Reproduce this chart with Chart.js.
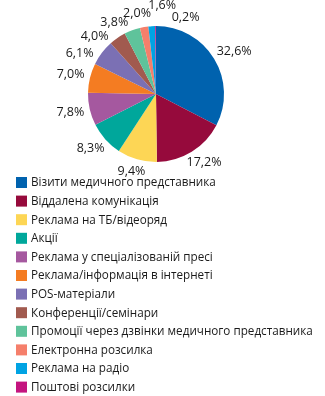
<!DOCTYPE html>
<html>
<head>
<meta charset="utf-8">
<script src="https://cdn.jsdelivr.net/npm/chart.js@4"></script>
<style>
  html, body { margin: 0; padding: 0; background: #fff; }
  #wrap { width: 325px; height: 396px; }
</style>
</head>
<body>
<div id="wrap"><canvas id="myChart" width="325" height="396"></canvas></div>
<script>
var categories = [
  'Візити медичного представника',
  'Віддалена комунікація',
  'Реклама на ТБ/відеоряд',
  'Акції',
  'Реклама у спеціалізованій пресі',
  'Реклама/інформація в інтернеті',
  'POS-матеріали',
  'Конференції/семінари',
  'Промоції через дзвінки медичного представника',
  'Електронна розсилка',
  'Реклама на радіо',
  'Поштові розсилки'
];
var shares = [32.6, 17.2, 9.4, 8.3, 7.8, 7.0, 6.1, 4.0, 3.8, 2.0, 1.6, 0.2];
var colors = ['#0062ae', '#960a3c', '#fdd655', '#00a79b', '#a5589f', '#f47c22',
              '#7b70b4', '#a15a4f', '#5fc39b', '#f57f6b', '#00a3e3', '#c4147f'];

var FONT = '"Open Sans", "Noto Sans", sans-serif';

function fmt(v) {
  return v.toFixed(1).replace('.', ',') + '%';
}

function overlaps(a, b) {
  return a.x1 < b.x2 && b.x1 < a.x2 && a.y1 < b.y2 && b.y1 < a.y2;
}

// percent labels around the pie, spread apart where slices are thin
var outsideLabels = {
  id: 'outsideLabels',
  afterDatasetsDraw: function(chart) {
    var ctx = chart.ctx;
    var arcs = chart.getDatasetMeta(0).data;
    var n = arcs.length;
    var ang = arcs.map(function(a) { return (a.startAngle + a.endAngle) / 2; });
    var minSep = 16 * Math.PI / 180;
    for (var it = 0; it < 80; it++) {
      for (var i = 0; i < n; i++) {
        var j = (i + 1) % n;
        var b = ang[j] + (j === 0 ? Math.PI * 2 : 0);
        var d = b - ang[i];
        if (d < minSep) {
          var push = (minSep - d) / 2;
          ang[i] -= push;
          ang[j] += push;
        }
      }
    }
    ctx.save();
    ctx.font = '12.5px ' + FONT;
    ctx.fillStyle = '#1a1a1a';
    ctx.textAlign = 'center';
    ctx.textBaseline = 'middle';
    var placed = [];
    for (var k = 0; k < n; k++) {
      var a = arcs[k];
      var c = Math.cos(ang[k]), s = Math.sin(ang[k]);
      var txt = fmt(shares[k]);
      var w = ctx.measureText(txt).width;
      var r = a.outerRadius + 6, x, y, box;
      // bump outward until it clears the labels already drawn
      for (var step = 0; step < 30; step++) {
        x = a.x + r * c + (w / 2) * c;
        y = a.y + r * s + 7 * s;
        box = { x1: x - w / 2, x2: x + w / 2, y1: y - 4, y2: y + 4 };
        if (!placed.some(function(p) { return overlaps(p, box); })) break;
        r += 1;
      }
      placed.push(box);
      ctx.fillText(txt, x, y);
    }
    ctx.restore();
  }
};

// vertical legend under the pie
var listLegend = {
  id: 'listLegend',
  afterDraw: function(chart) {
    var ctx = chart.ctx;
    ctx.save();
    ctx.font = '11.7px ' + FONT;
    ctx.textBaseline = 'middle';
    ctx.textAlign = 'left';
    categories.forEach(function(name, i) {
      var y = 177 + i * 18.6;
      ctx.fillStyle = colors[i];
      ctx.fillRect(16, y, 11, 11);
      ctx.fillStyle = '#1a1a1a';
      ctx.fillText(name, 31, y + 6);
    });
    ctx.restore();
  }
};

var ctx = document.getElementById('myChart').getContext('2d');
var myPie = new Chart(ctx, {
  type: 'pie',
  data: {
    labels: categories,
    datasets: [{
      data: shares,
      backgroundColor: colors,
      borderWidth: 0
    }]
  },
  options: {
    responsive: false,
    animation: false,
    layout: { padding: { left: 88, right: 101, top: 26, bottom: 234 } },
    plugins: {
      legend: { display: false },
      tooltip: { enabled: false }
    }
  },
  plugins: [outsideLabels, listLegend]
});
</script>
</body>
</html>
